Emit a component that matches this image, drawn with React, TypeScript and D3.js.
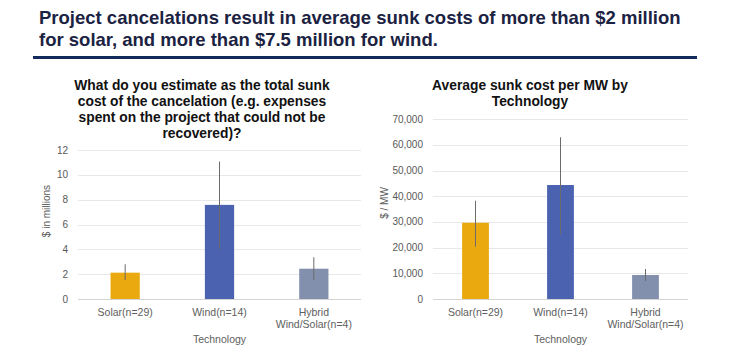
import React, { useEffect, useRef } from "react";
import * as d3 from "d3";

// categories and values
const categories = ["Solar(n=29)", "Wind(n=14)", "Hybrid Wind/Solar(n=4)"];
const categoryLines = [["Solar(n=29)"], ["Wind(n=14)"], ["Hybrid", "Wind/Solar(n=4)"]];
const sunkMillions = [2.12, 7.58, 2.44];
const sunkMillionsLow = [1.53, 4.03, 1.53];
const sunkMillionsHigh = [2.8, 11.07, 3.36];
const sunkPerMW = [29700, 44400, 9350];
const sunkPerMWLow = [20400, 25200, 7000];
const sunkPerMWHigh = [38300, 63000, 11700];
const millionTicks = [0, 2, 4, 6, 8, 10, 12];
const perMWTicks = [0, 10000, 20000, 30000, 40000, 50000, 60000, 70000];
const barColors = ["#E9A90F", "#4A62B0", "#8290AE"];

const headline = [
  "Project cancelations result in average sunk costs of more than $2 million",
  "for solar, and more than $7.5 million for wind.",
];
const leftTitle = [
  "What do you estimate as the total sunk",
  "cost of the cancelation (e.g. expenses",
  "spent on the project that could not be",
  "recovered)?",
];
const rightTitle = ["Average sunk cost per MW by", "Technology"];

const FONT = "'Liberation Sans', Arial, sans-serif";

function drawPanel(svg, o) {
  const g = svg.append("g");
  const x = d3.scalePoint().domain(categories).range([o.x0, o.x1]).padding(0.5);
  const y = d3.scaleLinear().domain([0, o.max]).range([o.yBottom, o.yTop]);
  const bw = x.step() * o.barFrac;

  // title
  g.append("text")
    .attr("text-anchor", "middle")
    .attr("font-family", FONT)
    .attr("font-weight", "bold")
    .attr("font-size", 13.8)
    .attr("fill", "#111")
    .selectAll("tspan")
    .data(o.title)
    .enter()
    .append("tspan")
    .attr("x", o.titleX)
    .attr("y", (d, i) => o.titleY + i * 16.3)
    .text((d) => d);

  // grid + ticks
  g.selectAll(".grid")
    .data(o.ticks)
    .enter()
    .append("line")
    .attr("x1", o.x0)
    .attr("x2", o.x1)
    .attr("y1", (d) => Math.round(y(d)) + 0.5)
    .attr("y2", (d) => Math.round(y(d)) + 0.5)
    .attr("stroke", (d) => (d === 0 ? "#d4d4d4" : "#e8e8e8"))
    .attr("stroke-width", 1);

  g.selectAll(".tick")
    .data(o.ticks)
    .enter()
    .append("text")
    .attr("x", o.x0 - 10)
    .attr("y", (d) => y(d) + 3.5)
    .attr("text-anchor", "end")
    .attr("font-family", FONT)
    .attr("font-size", 10)
    .attr("fill", "#595959")
    .text((d) => o.fmt(d));

  // bars
  g.selectAll(".bar")
    .data(o.values)
    .enter()
    .append("rect")
    .attr("x", (d, i) => x(categories[i]) - bw / 2)
    .attr("y", (d) => y(d))
    .attr("width", bw)
    .attr("height", (d) => y(0) - y(d))
    .attr("fill", (d, i) => barColors[i]);

  // error bars
  g.selectAll(".err")
    .data(o.values)
    .enter()
    .append("line")
    .attr("x1", (d, i) => x(categories[i]))
    .attr("x2", (d, i) => x(categories[i]))
    .attr("y1", (d, i) => y(o.high[i]))
    .attr("y2", (d, i) => y(o.low[i]))
    .attr("stroke", "#6b6b6b")
    .attr("stroke-width", 1);

  // category labels
  categoryLines.forEach((lines, i) => {
    g.append("text")
      .attr("text-anchor", "middle")
      .attr("font-family", FONT)
      .attr("font-size", 10.5)
      .attr("fill", "#606060")
      .selectAll("tspan")
      .data(lines)
      .enter()
      .append("tspan")
      .attr("x", x(categories[i]))
      .attr("y", (d, j) => o.yBottom + 17 + j * 11.5)
      .text((d) => d);
  });

  g.append("text")
    .attr("x", (o.x0 + o.x1) / 2)
    .attr("y", o.yBottom + 44)
    .attr("text-anchor", "middle")
    .attr("font-family", FONT)
    .attr("font-size", 10.5)
    .attr("fill", "#606060")
    .text("Technology");

  g.append("text")
    .attr("transform", `translate(${o.yLabelX},${o.yLabelY}) rotate(-90)`)
    .attr("text-anchor", "middle")
    .attr("font-family", FONT)
    .attr("font-size", 10)
    .attr("fill", "#595959")
    .text(o.yLabel);
}

export default function App() {
  const ref = useRef(null);

  useEffect(() => {
    document.body.style.margin = "0";
    const svg = d3.select(ref.current);
    svg.selectAll("*").remove();

    svg.append("rect").attr("width", 730).attr("height", 354).attr("fill", "#fff");

    svg.append("text")
      .attr("font-family", "'Liberation Sans Narrow', 'Liberation Sans', Arial, sans-serif")
      .attr("font-weight", "bold")
      .attr("font-size", 18.5)
      .attr("fill", "#1b2242")
      .selectAll("tspan")
      .data(headline)
      .enter()
      .append("tspan")
      .attr("x", 39)
      .attr("y", (d, i) => 23.5 + i * 22)
      .text((d) => d);

    svg.append("rect")
      .attr("x", 33)
      .attr("y", 56)
      .attr("width", 664)
      .attr("height", 3)
      .attr("fill", "#122a5c");

    drawPanel(svg, {
      x0: 78,
      x1: 361,
      yTop: 150,
      yBottom: 299,
      max: 12,
      ticks: millionTicks,
      values: sunkMillions,
      low: sunkMillionsLow,
      high: sunkMillionsHigh,
      fmt: (d) => String(d),
      barFrac: 0.31,
      title: leftTitle,
      titleX: 202,
      titleY: 89.5,
      yLabel: "$ in millions",
      yLabelX: 50,
      yLabelY: 211,
    });

    drawPanel(svg, {
      x0: 433,
      x1: 688,
      yTop: 119.3,
      yBottom: 299,
      max: 70000,
      ticks: perMWTicks,
      values: sunkPerMW,
      low: sunkPerMWLow,
      high: sunkPerMWHigh,
      fmt: d3.format(","),
      barFrac: 0.315,
      title: rightTitle,
      titleX: 530,
      titleY: 89.5,
      yLabel: "$ / MW",
      yLabelX: 388,
      yLabelY: 203,
    });
  }, []);

  return <svg ref={ref} width={730} height={354} style={{ display: "block" }} />;
}
